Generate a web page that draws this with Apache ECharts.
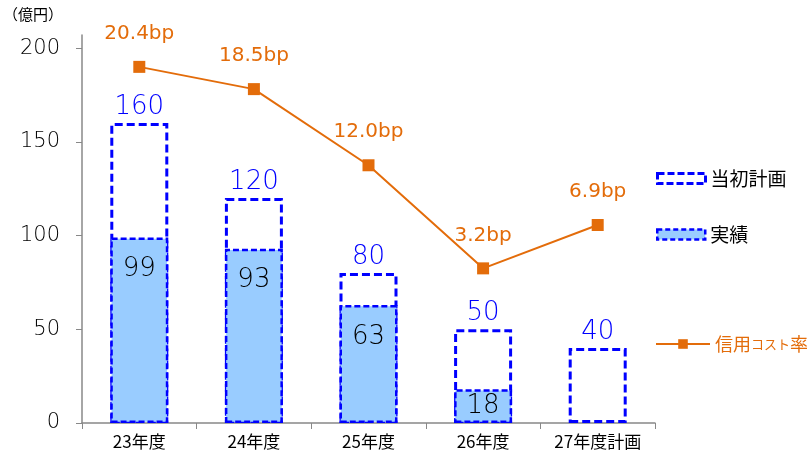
<!DOCTYPE html>
<html><head><meta charset="utf-8">
<script src="https://cdn.jsdelivr.net/npm/echarts@6/dist/echarts.min.js"></script>
<style>html,body{margin:0;padding:0;background:#fff}#c{width:807px;height:453px}</style>
</head><body><div id="c"></div>
<script>
const categories = ['23年度','24年度','25年度','26年度','27年度計画'];
const planned = [160,120,80,50,40];
const actual = [99,93,63,18,null];
const costRate = [20.4,18.5,12.0,3.2,6.9];
const yTicks = [0,50,100,150,200];

const FONT = "'DejaVu Sans','Noto Sans CJK JP',sans-serif";
const JP = "'Noto Sans CJK JP',sans-serif";
const chart = echarts.init(document.getElementById('c'));
chart.setOption({
  animation:false,
  grid:{left:82,right:152,top:35,bottom:30},
  graphic:[{type:'text',left:3,top:7,style:{text:'（億円）',font:'15px '+JP,fill:'#000'}}],
  legend:[
    {data:['当初計画'],left:651,top:164,icon:'rect',itemWidth:48,itemHeight:10,itemGap:6,
     itemStyle:{borderType:[7,3],borderWidth:3,borderColor:'#0000FF',color:'#fff'},
     textStyle:{color:'#000',fontSize:19,fontFamily:JP}},
    {data:['実績'],left:651,top:220,icon:'rect',itemWidth:48,itemHeight:10,
     itemStyle:{borderType:[5,3],borderWidth:2.5,borderColor:'#0000FF',color:'#99CCFF'},
     textStyle:{color:'#000',fontSize:19,fontFamily:JP}},
    {data:['信用コスト率'],left:650,top:330,itemWidth:54,itemHeight:12,
     formatter:()=>'{a|信用}{b|コスト}{a|率}',
     textStyle:{color:'#E36C0A',fontSize:18,fontFamily:JP,
       rich:{a:{fontSize:18,color:'#E36C0A',fontFamily:JP},b:{fontSize:13,color:'#E36C0A',fontFamily:JP}}}}
  ],
  xAxis:{type:'category',data:categories,
    axisLine:{lineStyle:{color:'#888',width:1.5}},
    axisTick:{show:true,length:6,lineStyle:{color:'#888'}},
    axisLabel:{color:'#000',fontSize:17,fontFamily:JP,margin:10}},
  yAxis:[
    {type:'value',min:0,max:207,
     axisLine:{show:true,lineStyle:{color:'#888',width:1.5}},
     axisTick:{show:true,length:6,customValues:yTicks,lineStyle:{color:'#888'}},
     axisLabel:{customValues:yTicks,color:'#000',fontSize:21,fontFamily:FONT,fontWeight:200,margin:22},
     splitLine:{show:false}},
    {type:'value',min:-10,max:23.12,show:false,splitLine:{show:false}}
  ],
  series:[
    {name:'当初計画',type:'bar',data:planned,barWidth:58,barGap:'-100%',z:2,
     itemStyle:{color:'#fff',borderColor:'#0000FF',borderWidth:3,borderType:[8,4]},
     label:{show:true,position:'top',distance:3,color:'#0000FF',fontSize:26,fontWeight:200,fontFamily:FONT}},
    {name:'実績',type:'bar',data:actual.map((v,i)=>i===3?{value:v,label:{position:'inside'}}:v),
     barWidth:58,z:3,
     itemStyle:{color:'#99CCFF',borderColor:'#0000FF',borderWidth:2.5,borderType:[6,3]},
     label:{show:true,position:'insideTop',distance:19,color:'#000',fontSize:26,fontWeight:200,fontFamily:FONT}},
    {name:'信用コスト率',type:'line',yAxisIndex:1,data:costRate,z:5,
     symbol:'rect',symbolSize:12,
     lineStyle:{color:'#E36C0A',width:2},itemStyle:{color:'#E36C0A'},
     label:{show:true,position:'top',distance:17,color:'#E36C0A',fontSize:20,fontFamily:FONT,
       formatter:p=>p.value.toFixed(1)+'bp'}}
  ]
});
</script></body></html>
